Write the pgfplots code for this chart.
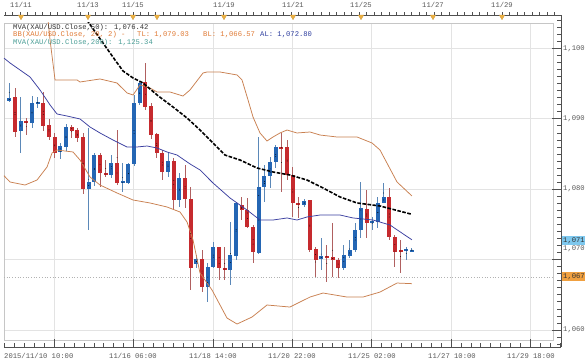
\documentclass[border=0pt]{standalone}
\usepackage{pgfplots}
\pgfplotsset{compat=1.18}
\usepackage{pgfplotstable}
\usepackage{fontspec}
\setmainfont{Liberation Mono}
\definecolor{upbody}{HTML}{2466B4}
\definecolor{dnbody}{HTML}{C62A2E}
\definecolor{upwick}{HTML}{5B88B8}
\definecolor{dnwick}{HTML}{B06060}
\definecolor{bband}{HTML}{C98050}
\definecolor{midband}{HTML}{3B3FA0}
\definecolor{labgray}{HTML}{5A5A5A}
\definecolor{triorange}{HTML}{EDB040}
\definecolor{bbtext}{HTML}{E07A35}
\definecolor{altext}{HTML}{2F3F9F}
\definecolor{mvatext}{HTML}{4A9E96}
\definecolor{axgray}{HTML}{505050}
\definecolor{bluebox}{HTML}{7EC8EE}
\definecolor{orangebox}{HTML}{F0A040}
\newcommand\lbl{\fontsize{7.2}{8}\selectfont}
\pgfplotsset{candle/.style={only marks, mark=*, mark options={draw=none, fill=none}, mark size=0.1pt,
  error bars/y dir=both, error bars/y explicit, error bars/error mark=none}}

\pgfplotstableread{
x o h l c
1 1092.56 1095.11 1092.41 1092.90
2 1093.04 1094.32 1087.44 1088.15
3 1088.25 1093.04 1085.17 1089.67
4 1089.72 1090.06 1087.68 1089.35
5 1089.35 1093.22 1088.64 1092.27
6 1092.19 1093.04 1091.48 1092.37
7 1092.27 1093.83 1088.30 1088.96
8 1089.10 1089.91 1086.97 1087.44
9 1087.44 1087.93 1084.37 1085.09
10 1085.31 1086.51 1084.23 1086.12
11 1086.02 1089.25 1085.45 1088.86
12 1088.86 1089.10 1087.22 1088.30
13 1088.39 1088.64 1086.73 1087.22
14 1087.36 1087.93 1079.30 1079.97
15 1079.97 1088.64 1074.19 1081.05
16 1081.05 1085.17 1080.44 1084.84
17 1084.84 1085.09 1080.34 1082.24
18 1082.33 1084.13 1081.76 1082.00
19 1082.00 1084.84 1081.53 1083.75
20 1083.75 1088.39 1080.58 1080.82
21 1080.91 1083.66 1079.63 1081.05
22 1080.82 1083.75 1080.72 1083.57
23 1083.57 1093.37 1083.28 1092.19
24 1092.19 1095.26 1091.95 1095.11
25 1095.26 1097.95 1091.24 1091.70
26 1091.80 1092.19 1087.07 1087.68
27 1087.78 1088.01 1084.37 1085.09
28 1085.17 1085.55 1081.29 1082.47
29 1082.47 1085.09 1081.76 1084.03
30 1084.03 1084.37 1077.03 1078.45
31 1078.45 1082.24 1077.50 1081.53
32 1081.53 1083.42 1077.27 1078.55
33 1078.55 1080.34 1065.67 1068.79
34 1069.36 1070.64 1068.79 1070.07
35 1070.07 1071.35 1065.38 1066.09
36 1066.09 1069.50 1063.96 1068.93
37 1068.93 1072.49 1068.79 1071.78
38 1071.78 1071.78 1067.09 1068.79
39 1068.79 1071.78 1067.09 1068.51
40 1068.51 1075.33 1066.38 1070.64
41 1070.50 1078.17 1069.93 1078.03
42 1077.74 1078.88 1075.61 1077.03
43 1077.03 1078.74 1074.47 1074.62
44 1074.62 1074.90 1069.50 1071.07
45 1070.92 1087.40 1070.78 1080.30
46 1080.30 1083.42 1078.17 1081.86
47 1081.86 1084.56 1080.16 1083.85
48 1083.85 1086.26 1083.00 1085.98
49 1085.98 1087.97 1079.59 1085.77
50 1085.98 1086.97 1081.29 1082.00
51 1082.00 1083.14 1076.04 1078.03
52 1078.03 1078.88 1075.89 1077.74
53 1077.74 1078.59 1077.46 1078.31
54 1078.45 1078.45 1071.07 1071.35
55 1071.49 1071.78 1067.51 1069.93
56 1070.07 1073.05 1068.51 1070.50
57 1070.50 1072.06 1066.80 1070.28
58 1070.35 1075.18 1067.51 1069.93
59 1069.93 1070.21 1067.37 1068.79
60 1068.79 1072.06 1068.51 1070.64
61 1070.50 1072.77 1070.21 1071.35
62 1071.35 1075.18 1071.07 1074.19
63 1074.19 1081.01 1073.05 1077.32
64 1077.17 1079.87 1073.05 1075.18
65 1075.18 1076.04 1074.19 1075.47
66 1075.33 1078.88 1074.47 1078.03
67 1078.03 1080.86 1078.03 1078.88
68 1078.88 1080.16 1072.77 1073.20
69 1073.20 1073.48 1068.93 1071.07
70 1071.35 1072.77 1068.08 1071.07
71 1071.21 1071.78 1069.93 1071.49
72 1071.21 1071.63 1071.07 1071.35
}\candles

\pgfplotstableread{
x y
7.47 1106.86
8.18 1101.18
9.06 1095.50
10.82 1095.50
12.94 1095.50
13.47 1095.21
16.99 1095.64
19.99 1095.07
21.76 1093.65
22.82 1093.37
24.05 1094.79
25.81 1094.36
27.05 1093.79
29.34 1093.79
31.63 1093.22
32.87 1094.08
35.16 1096.49
35.87 1096.63
38.16 1096.63
41.16 1096.21
42.04 1095.50
43.10 1092.66
43.98 1090.24
45.21 1087.97
46.45 1086.83
47.51 1087.40
48.74 1087.97
49.98 1088.39
51.74 1087.97
54.03 1088.11
55.80 1087.68
58.79 1087.40
62.32 1087.40
64.97 1086.55
66.38 1085.55
69.38 1081.01
72.00 1079.03
}\bbupper

\pgfplotstableread{
x y
0.06 1081.90
1.12 1081.01
3.77 1080.58
5.88 1081.29
7.65 1083.14
8.53 1085.13
9.41 1085.55
12.23 1085.27
13.47 1084.13
15.23 1081.72
16.99 1080.58
19.99 1079.45
22.82 1078.45
25.81 1078.03
28.81 1077.46
31.10 1076.75
32.34 1075.33
33.40 1072.77
34.63 1068.08
36.75 1065.67
39.39 1061.69
41.16 1060.84
43.80 1061.83
46.45 1063.54
50.50 1063.25
54.03 1064.67
56.33 1065.24
60.56 1064.67
63.38 1064.67
66.38 1065.38
69.38 1066.66
72.00 1066.57
}\bblower

\pgfplotstableread{
x y
0.06 1098.60
1.12 1097.91
2.88 1096.92
4.65 1095.92
6.41 1094.08
8.18 1091.95
9.41 1090.67
11.17 1090.38
13.47 1089.96
15.23 1088.82
16.99 1087.97
19.29 1086.97
21.76 1085.98
23.52 1085.98
25.28 1086.12
27.05 1085.84
28.81 1085.27
30.58 1084.84
32.87 1083.57
34.63 1082.72
36.92 1080.87
39.92 1078.74
42.92 1077.03
45.21 1075.61
47.51 1075.61
49.98 1075.90
51.74 1075.61
53.50 1076.04
55.80 1076.32
59.32 1076.32
61.62 1075.90
65.15 1075.61
68.14 1074.90
72.00 1072.80
}\bbmid

\pgfplotstableread{
x y
14.17 1104.59
17.52 1100.75
19.64 1098.34
21.05 1096.78
22.82 1095.78
24.58 1095.07
27.05 1093.37
29.87 1091.66
32.34 1090.10
34.63 1088.39
36.92 1086.55
39.04 1084.84
41.69 1084.13
44.68 1083.00
47.51 1082.43
50.50 1082.00
53.50 1081.29
56.33 1080.16
59.32 1078.88
62.32 1078.03
66.38 1077.60
72.00 1076.42
}\mvafifty

\begin{document}
\begin{tikzpicture}[x=1pt,y=1pt]
\path[use as bounding box] (0,0) rectangle (585,363);
\fill[white] (0,0) rectangle (585,363);

% main plot
\begin{axis}[
  at={(4pt,23pt)}, anchor=south west,
  width=549pt, height=317pt, scale only axis,
  xmin=0.06, xmax=96.89, ymin=1058.57, ymax=1103.59,
  axis line style={draw=gray!45},
  xtick={8.9,22.9,36.9,50.9,64.9,78.9,92.9},
  ytick={1060,1070,1080,1090,1100},
  xticklabels={}, yticklabels={},
  tick style={draw=none}, major tick length=0pt,
  grid=major, major grid style={draw=gray!22, line width=0.6pt},
  unbounded coords=discard,
]
\addplot[gray!60, dotted, line width=0.7pt] coordinates {(0.06,1067.5) (96.89,1067.5)};
% wicks
\addplot[candle, x filter/.expression={\thisrow{c}<\thisrow{o} ? x : nan},
  error bars/error bar style={draw=dnwick, line width=0.9pt}]
  table[x=x, y expr={(\thisrow{h}+\thisrow{l})/2}, y error expr={(\thisrow{h}-\thisrow{l})/2}] {\candles};
\addplot[candle, x filter/.expression={\thisrow{c}<\thisrow{o} ? nan : x},
  error bars/error bar style={draw=upwick, line width=0.9pt}]
  table[x=x, y expr={(\thisrow{h}+\thisrow{l})/2}, y error expr={(\thisrow{h}-\thisrow{l})/2}] {\candles};
% bodies
\addplot[candle, x filter/.expression={\thisrow{c}<\thisrow{o} ? x : nan},
  error bars/error bar style={draw=dnbody, line width=4pt}]
  table[x=x, y expr={(\thisrow{o}+\thisrow{c})/2}, y error expr={max(abs(\thisrow{o}-\thisrow{c})/2,0.14)}] {\candles};
\addplot[candle, x filter/.expression={\thisrow{c}<\thisrow{o} ? nan : x},
  error bars/error bar style={draw=upbody, line width=4pt}]
  table[x=x, y expr={(\thisrow{o}+\thisrow{c})/2}, y error expr={max(abs(\thisrow{o}-\thisrow{c})/2,0.14)}] {\candles};
% indicators
\addplot[bband, line width=0.75pt] table {\bbupper};
\addplot[bband, line width=0.75pt] table {\bblower};
\addplot[midband, line width=0.75pt] table {\bbmid};
\addplot[black, line width=1.6pt, dash pattern=on 3.6pt off 1.5pt] table {\mvafifty};
\end{axis}

% bottom time scale
\begin{axis}[
  at={(4pt,16pt)}, anchor=south west,
  width=557pt, height=2pt, scale only axis,
  xmin=0.06, xmax=98.30, ymin=0, ymax=1,
  hide y axis, axis x line*=bottom, x axis line style={-, draw=axgray, line width=0.6pt},
  xtick={8.9,22.9,36.9,50.9,64.9,78.9,92.9},
  minor xtick={0.15,1.9,...,97.5},
  xticklabels={}, tick align=inside,
  major tick length=8pt, minor tick length=4pt,
  every tick/.style={draw=axgray, line width=0.6pt},
]
\addplot[draw=none] coordinates {(1,0.5)};
\end{axis}

% right price scale
\begin{axis}[
  at={(560pt,16pt)}, anchor=south west,
  width=1pt, height=332pt, scale only axis,
  xmin=0, xmax=1, ymin=1057.58, ymax=1104.73,
  hide x axis, axis y line*=right, y axis line style={-, draw=axgray, line width=0.6pt},
  ytick={1060,1070,1080,1090,1100},
  minor ytick={1058,1059,...,1104},
  yticklabels={}, tick align=inside,
  major tick length=9pt, minor tick length=4pt,
  every tick/.style={draw=axgray, line width=0.6pt},
]
\addplot[draw=none] coordinates {(0.5,1080)};
\end{axis}

% top date scale
\begin{axis}[
  at={(4pt,348pt)}, anchor=south west,
  width=557pt, height=2pt, scale only axis,
  xmin=4, xmax=561, ymin=0, ymax=1,
  hide y axis, axis x line*=bottom, x axis line style={-, draw=axgray, line width=0.6pt},
  xtick={5,12.53,...,553}, xticklabels={}, tick align=inside,
  major tick length=3pt,
  every tick/.style={draw=axgray, line width=0.5pt},
  clip=false,
]
\addplot[only marks, mark=triangle*, mark size=3.1pt,
  mark options={rotate=180, fill=triorange, draw=triorange!85!black, line width=0.3pt}]
  coordinates {(21,-0.8) (88,-0.8) (133,-0.8) (157,-0.8) (224,-0.8) (293,-0.8) (361,-0.8) (433,-0.8) (502,-0.8)};
\end{axis}

% texts
\begin{scope}[every node/.style={font=\lbl, text=labgray, inner sep=0pt}]
\node at (21,358) {11/11};
\node at (88,358) {11/13};
\node at (133,358) {11/15};
\node at (224,358) {11/19};
\node at (293,358) {11/21};
\node at (361,358) {11/25};
\node at (433,358) {11/27};
\node at (502,358) {11/29};

\node[anchor=west] at (4,7) {2015/11/10 10:00};
\node at (133,7) {11/16 06:00};
\node at (213,7) {11/18 14:00};
\node at (292,7) {11/20 22:00};
\node at (372,7) {11/25 02:00};
\node at (452,7) {11/27 10:00};
\node at (531,7) {11/29 18:00};

\node[anchor=west] at (563,314.6) {1,100};
\node[anchor=west] at (563,244.2) {1,090};
\node[anchor=west] at (563,173.8) {1,080};
\node[anchor=west] at (563,114) {1,070};
\node[anchor=west] at (563,33) {1,060};
\end{scope}
\fill[bluebox] (561.5,118) rectangle (585,126.5);
\node[font=\lbl, text=black!80, anchor=west, inner sep=0pt] at (563,122.2) {1,071};
\fill[orangebox] (561.5,82) rectangle (585,91);
\node[font=\lbl, text=black!80, anchor=west, inner sep=0pt] at (563,86.5) {1,067};

% legend
\begin{scope}[every node/.style={font=\lbl, inner sep=0pt, anchor=west}]
\node[text=black!80] at (13,335.5) {MVA(XAU/USD.Close,50): 1,076.42};
\node[text=bbtext] at (13,328) {BB(XAU/USD.Close, 20, 2) -};
\node[text=bbtext] at (137,328) {TL: 1,079.03};
\node[text=bbtext] at (203,328) {BL: 1,066.57};
\node[text=altext] at (260,328) {AL: 1,072.80};
\node[text=mvatext] at (13,320) {MVA(XAU/USD.Close,200): 1,125.34};
\end{scope}
\end{tikzpicture}
\end{document}
